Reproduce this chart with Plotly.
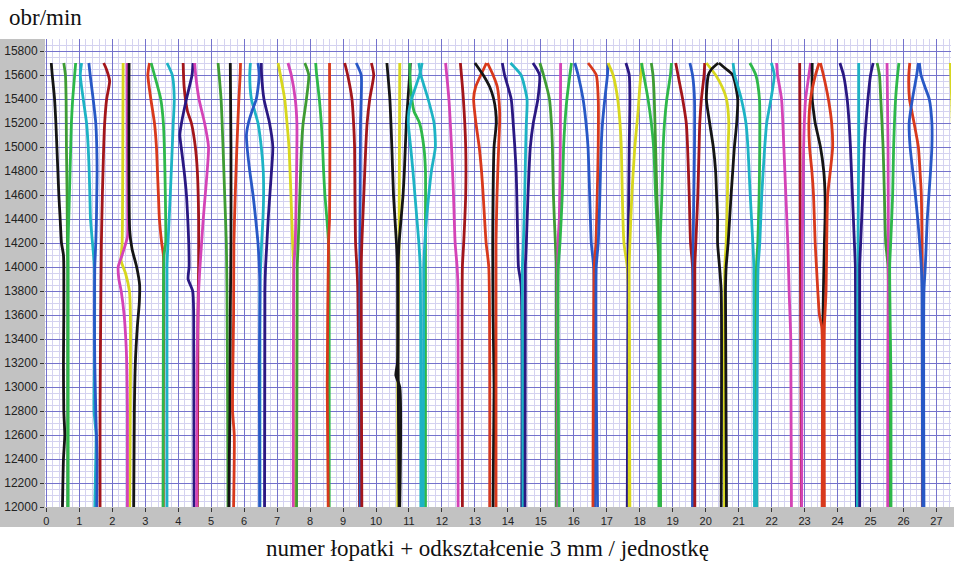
import plotly.graph_objects as go

# Rotational speed range (rpm) and blade axis range
RPM_MIN, RPM_MAX = 12000, 15900
X_MIN, X_MAX = -0.04, 27.44

COLORS = {
    "black": "#151515",
    "green": "#2eb84a",
    "dkgreen": "#3f9c34",
    "red": "#d8391c",
    "maroon": "#a3161b",
    "cyan": "#1db3c4",
    "blue": "#2858c6",
    "navy": "#2a1882",
    "magenta": "#d443b6",
    "yellow": "#d7d71f",
}

# Each curve: colour key and {rpm: blade position + deflection}
blades_00_04 = [
    ("black", {15700: 0.15, 15600: 0.18, 15400: 0.25, 15200: 0.29, 15000: 0.32, 14800: 0.35, 14600: 0.38,
               14400: 0.42, 14200: 0.46, 14100: 0.52, 14000: 0.53, 13600: 0.53, 13200: 0.52, 12800: 0.53,
               12600: 0.56, 12400: 0.52, 12000: 0.49}),
    ("dkgreen", {15700: 0.53, 15600: 0.58, 15400: 0.60, 15000: 0.61, 14600: 0.63, 14200: 0.64, 14000: 0.65, 12000: 0.65}),
    ("green", {15700: 0.89, 15600: 0.86, 15400: 0.80, 15200: 0.76, 15000: 0.74, 14800: 0.72, 14600: 0.70,
               14400: 0.68, 14200: 0.66, 14000: 0.66, 12000: 0.66}),
    ("cyan", {15700: 1.07, 15600: 1.03, 15400: 1.12, 15200: 1.22, 15000: 1.27, 14800: 1.30, 14600: 1.32,
              14400: 1.34, 14200: 1.40, 14000: 1.46, 13200: 1.46, 12800: 1.45, 12600: 1.51, 12400: 1.50, 12000: 1.47}),
    ("blue", {15700: 1.29, 15600: 1.33, 15400: 1.42, 15200: 1.50, 15000: 1.53, 14800: 1.54, 14600: 1.53,
              14400: 1.52, 14200: 1.50, 14000: 1.47, 13600: 1.46, 13200: 1.47, 12800: 1.50, 12400: 1.54, 12000: 1.53}),
    ("maroon", {15700: 1.74, 15650: 1.82, 15550: 1.92, 15400: 1.83, 15200: 1.77, 15000: 1.74, 14600: 1.70,
                14200: 1.67, 13600: 1.65, 12800: 1.63, 12000: 1.63}),
    ("yellow", {15700: 2.33, 15000: 2.32, 14400: 2.31, 14200: 2.30, 14050: 2.27, 13950: 2.40, 13800: 2.52,
                13600: 2.55, 12000: 2.53}),
    ("magenta", {15700: 2.45, 14400: 2.47, 14250: 2.46, 14100: 2.30, 14000: 2.18, 13900: 2.20, 13800: 2.27,
                 13600: 2.36, 13400: 2.41, 13200: 2.44, 12800: 2.46, 12000: 2.46}),
    ("black", {15700: 2.51, 14300: 2.53, 14150: 2.60, 14000: 2.74, 13850: 2.83, 13700: 2.82, 13500: 2.76,
               13200: 2.70, 12800: 2.67, 12000: 2.65}),
    ("red", {15700: 3.13, 15600: 3.08, 15400: 3.17, 15200: 3.28, 15000: 3.34, 14800: 3.37, 14600: 3.40,
             14400: 3.43, 14200: 3.50, 14100: 3.55, 13600: 3.56, 12800: 3.55, 12000: 3.55}),
    ("green", {15700: 3.18, 15600: 3.28, 15400: 3.47, 15200: 3.55, 15000: 3.58, 14600: 3.61, 14200: 3.62,
               14100: 3.57, 13600: 3.55, 12000: 3.54}),
    ("cyan", {15700: 3.66, 15600: 3.82, 15400: 3.88, 15200: 3.85, 15000: 3.82, 14600: 3.76, 14200: 3.69,
              14000: 3.66, 12000: 3.66}),
    ("maroon", {15700: 4.15, 15500: 4.18, 15300: 4.28, 15200: 4.40, 15000: 4.52, 14800: 4.58, 14400: 4.62,
                14000: 4.62, 13600: 4.60, 12000: 4.58}),
    ("navy", {15700: 4.45, 15600: 4.42, 15400: 4.25, 15200: 4.10, 15100: 4.05, 15000: 4.09, 14800: 4.18,
              14600: 4.25, 14400: 4.29, 14200: 4.32, 14000: 4.33, 13900: 4.30, 13800: 4.44, 13600: 4.47, 12000: 4.48}),
    ("magenta", {15700: 4.50, 15600: 4.53, 15400: 4.63, 15200: 4.80, 15000: 4.92, 14800: 4.88, 14600: 4.82,
                 14400: 4.76, 14200: 4.71, 14000: 4.66, 13800: 4.62, 13200: 4.57, 12000: 4.56}),
]

blades_05_09 = [
    ("dkgreen", {15700: 5.21, 15400: 5.30, 15000: 5.36, 14600: 5.41, 14200: 5.46, 13800: 5.48, 12800: 5.50, 12000: 5.51}),
    ("black", {15700: 5.58, 15000: 5.60, 14200: 5.60, 13600: 5.58, 12800: 5.57, 12400: 5.55, 12000: 5.54}),
    ("red", {15700: 5.89, 15600: 5.88, 15400: 5.84, 15000: 5.78, 14600: 5.73, 14200: 5.69, 13600: 5.68,
             12800: 5.65, 12600: 5.70, 12000: 5.68}),
    ("cyan", {15700: 6.19, 15600: 6.17, 15400: 6.22, 15300: 6.32, 15200: 6.42, 15000: 6.52, 14800: 6.58,
              14600: 6.59, 14400: 6.57, 14200: 6.53, 14000: 6.50, 13800: 6.48, 12000: 6.48}),
    ("blue", {15700: 6.42, 15600: 6.46, 15400: 6.37, 15300: 6.24, 15200: 6.13, 15100: 6.07, 15000: 6.09,
              14800: 6.17, 14600: 6.27, 14400: 6.35, 14200: 6.42, 14000: 6.46, 13800: 6.48, 13200: 6.46,
              12400: 6.47, 12000: 6.47}),
    ("navy", {15700: 6.52, 15600: 6.53, 15400: 6.60, 15200: 6.77, 15000: 6.87, 14800: 6.83, 14600: 6.78,
              14400: 6.73, 14200: 6.69, 14000: 6.65, 13800: 6.63, 12000: 6.62}),
    ("yellow", {15700: 7.03, 15600: 7.10, 15400: 7.23, 15200: 7.30, 15000: 7.36, 14600: 7.42, 14200: 7.47,
                14000: 7.50, 12800: 7.51, 12000: 7.53}),
    ("magenta", {15700: 7.33, 15600: 7.43, 15400: 7.55, 15200: 7.60, 15000: 7.60, 14600: 7.58, 14200: 7.55,
                 14000: 7.51, 12000: 7.49}),
    ("dkgreen", {15700: 7.84, 15600: 7.96, 15400: 7.89, 15200: 7.79, 15000: 7.74, 14600: 7.69, 14200: 7.64,
                 14000: 7.61, 12000: 7.59}),
    ("green", {15700: 8.17, 15600: 8.20, 15400: 8.28, 15200: 8.34, 15000: 8.38, 14800: 8.41, 14600: 8.45,
               14400: 8.51, 14200: 8.56, 14000: 8.58, 12000: 8.58}),
    ("red", {15700: 8.59, 15000: 8.60, 14400: 8.59, 14200: 8.56, 13000: 8.52, 12000: 8.55}),
    ("maroon", {15700: 9.05, 15600: 9.14, 15400: 9.27, 15200: 9.32, 15000: 9.35, 14600: 9.36, 14200: 9.38,
                14000: 9.42, 13800: 9.45, 12800: 9.49, 12000: 9.50}),
]

blades_10_13 = [
    ("blue", {15700: 9.40, 15600: 9.55, 15400: 9.55, 15200: 9.53, 14600: 9.52, 14200: 9.51, 12000: 9.52}),
    ("maroon", {15700: 9.86, 15600: 9.93, 15400: 9.81, 15200: 9.73, 15000: 9.69, 14600: 9.63, 14200: 9.57,
                14000: 9.55, 12800: 9.56, 12000: 9.57}),
    ("yellow", {15700: 10.72, 14200: 10.70, 13200: 10.66, 12000: 10.66}),
    ("black", {15700: 10.33, 15400: 10.42, 15000: 10.48, 14600: 10.53, 14200: 10.62, 14000: 10.65,
               13200: 10.65, 13100: 10.60, 13000: 10.72, 12000: 10.72}),
    ("black", {15700: 11.04, 15600: 11.02, 15400: 10.97, 15200: 10.92, 14800: 10.86, 14600: 10.82,
               14400: 10.76, 14200: 10.70, 14000: 10.67, 13200: 10.67, 12000: 10.70}),
    ("green", {15700: 11.02, 15500: 11.05, 15300: 11.15, 15200: 11.32, 15000: 11.45, 14800: 11.50,
               14400: 11.50, 12000: 11.50}),
    ("cyan", {15700: 11.30, 15600: 11.36, 15400: 11.58, 15200: 11.76, 15000: 11.80, 14800: 11.68,
              14600: 11.60, 14400: 11.53, 14200: 11.48, 14000: 11.45, 12000: 11.43}),
    ("cyan", {15700: 11.40, 15600: 11.32, 15400: 11.08, 15300: 11.00, 15200: 10.98, 15000: 11.05,
              14800: 11.12, 14600: 11.18, 14400: 11.24, 14200: 11.30, 14000: 11.34, 12000: 11.36}),
    ("magenta", {15700: 12.11, 15400: 12.21, 15000: 12.29, 14600: 12.35, 14200: 12.40, 14000: 12.46,
                 13800: 12.49, 12000: 12.49}),
    ("maroon", {15700: 12.56, 15400: 12.65, 15000: 12.72, 14600: 12.72, 14200: 12.66, 14000: 12.62, 12000: 12.62}),
    ("red", {15700: 13.35, 15600: 13.18, 15500: 13.02, 15400: 12.96, 15200: 13.03, 15000: 13.13,
             14800: 13.20, 14600: 13.25, 14200: 13.34, 14000: 13.42, 12000: 13.45}),
    ("black", {15700: 13.00, 15600: 13.25, 15500: 13.45, 15400: 13.57, 15300: 13.63, 15200: 13.65,
               15000: 13.58, 14600: 13.55, 14200: 13.54, 13600: 13.55, 13000: 13.58, 12000: 13.55}),
    ("red", {15700: 13.38, 15600: 13.55, 15500: 13.68, 15300: 13.75, 15200: 13.75, 15000: 13.72,
             14600: 13.67, 14200: 13.64, 12000: 13.64}),
]

blades_14_17 = [
    ("navy", {15700: 13.83, 15600: 13.90, 15400: 14.10, 15200: 14.16, 15000: 14.21, 14800: 14.25,
              14600: 14.27, 14200: 14.30, 14000: 14.32, 13850: 14.40, 12000: 14.42}),
    ("cyan", {15700: 14.08, 15650: 14.25, 15600: 14.40, 15400: 14.58, 15200: 14.56, 15000: 14.54,
              14600: 14.51, 14200: 14.47, 14000: 14.44, 12000: 14.46}),
    ("navy", {15700: 14.76, 15600: 14.96, 15400: 14.91, 15200: 14.77, 15000: 14.68, 14600: 14.61,
              14200: 14.56, 14000: 14.53, 12000: 14.52}),
    ("dkgreen", {15700: 14.97, 15600: 15.08, 15400: 15.26, 15200: 15.32, 15000: 15.35, 14600: 15.38,
                 14200: 15.44, 14000: 15.47, 12000: 15.47}),
    ("magenta", {15700: 15.60, 15000: 15.59, 14400: 15.56, 14200: 15.52, 12000: 15.52}),
    ("green", {15700: 15.93, 15600: 15.88, 15400: 15.79, 15200: 15.73, 15000: 15.69, 14600: 15.65,
               14200: 15.58, 14000: 15.53, 12000: 15.55}),
    ("blue", {15700: 16.03, 15600: 16.13, 15400: 16.28, 15200: 16.37, 15000: 16.43, 14600: 16.48,
              14200: 16.53, 14000: 16.60, 12000: 16.63}),
    ("red", {15700: 16.43, 15600: 16.68, 15400: 16.74, 15000: 16.74, 14600: 16.71, 14200: 16.67,
             14000: 16.62, 12000: 16.58}),
    ("blue", {15700: 17.04, 15600: 17.02, 15400: 16.94, 15200: 16.87, 15000: 16.83, 14600: 16.79,
              14200: 16.74, 14000: 16.68, 13000: 16.68, 12000: 16.72}),
    ("yellow", {15700: 17.04, 15600: 17.19, 15400: 17.33, 15200: 17.40, 15000: 17.44, 14600: 17.47,
                14200: 17.52, 14000: 17.62, 13500: 17.68, 12000: 17.70}),
    ("navy", {15700: 17.58, 15600: 17.68, 15400: 17.70, 15000: 17.68, 14200: 17.65, 12000: 17.62}),
]

blades_18_22 = [
    ("yellow", {15700: 18.07, 15500: 18.00, 15300: 17.95, 15000: 17.85, 14600: 17.76, 14200: 17.70,
                14000: 17.68, 12000: 17.68}),
    ("green", {15700: 18.05, 15600: 18.12, 15400: 18.25, 15200: 18.35, 15000: 18.42, 14600: 18.48,
               14200: 18.55, 14000: 18.58, 12000: 18.58}),
    ("dkgreen", {15700: 18.35, 15600: 18.40, 15400: 18.44, 15000: 18.48, 14600: 18.52, 14200: 18.57, 12000: 18.63}),
    ("green", {15700: 18.96, 15600: 18.93, 15400: 18.82, 15200: 18.75, 15000: 18.71, 14600: 18.67,
               14200: 18.62, 12000: 18.62}),
    ("maroon", {15700: 19.09, 15600: 19.16, 15400: 19.30, 15200: 19.41, 15000: 19.45, 14600: 19.50,
                14200: 19.54, 14000: 19.60, 12000: 19.61}),
    ("blue", {15700: 19.52, 15600: 19.60, 15400: 19.66, 15000: 19.66, 14600: 19.64, 14200: 19.62, 12000: 19.60}),
    ("maroon", {15700: 19.97, 15600: 19.95, 15400: 19.87, 15200: 19.82, 15000: 19.80, 14600: 19.76,
                14200: 19.70, 14000: 19.67, 12000: 19.67}),
    ("yellow", {15700: 20.02, 15600: 20.30, 15500: 20.50, 15400: 20.63, 15200: 20.70, 15000: 20.68,
                14600: 20.66, 14200: 20.62, 14000: 20.58, 12000: 20.57}),
    ("black", {15700: 20.38, 15650: 20.18, 15600: 20.08, 15400: 20.02, 15200: 20.12, 15000: 20.23,
               14800: 20.30, 14600: 20.33, 14400: 20.36, 14200: 20.36, 14000: 20.42, 13800: 20.47, 12000: 20.47}),
    ("black", {15700: 20.40, 15650: 20.62, 15600: 20.82, 15400: 20.97, 15200: 20.94, 15000: 20.87,
               14800: 20.82, 14600: 20.77, 14200: 20.68, 14000: 20.62, 13800: 20.60, 12000: 20.63}),
    ("cyan", {15700: 20.83, 15600: 20.88, 15400: 21.08, 15200: 21.22, 15000: 21.28, 14600: 21.35,
              14200: 21.43, 14000: 21.46, 12000: 21.48}),
    ("green", {15700: 21.34, 15600: 21.52, 15400: 21.63, 15000: 21.64, 14600: 21.62, 14200: 21.58,
               14000: 21.54, 12000: 21.55}),
    ("cyan", {15700: 21.99, 15600: 22.08, 15400: 21.98, 15200: 21.85, 15000: 21.79, 14600: 21.70,
              14200: 21.64, 14000: 21.59, 12000: 21.54}),
    ("magenta", {15700: 22.15, 15600: 22.18, 15400: 22.30, 15000: 22.37, 14600: 22.43, 14200: 22.49,
                 13800: 22.53, 13400: 22.58, 12000: 22.60}),
]

blades_23_27 = [
    ("maroon", {15700: 22.85, 15000: 22.86, 14200: 22.87, 13000: 22.89, 12000: 22.90}),
    ("magenta", {15700: 23.18, 15600: 23.13, 15400: 23.03, 15200: 22.99, 15000: 22.97, 14600: 22.95,
                 14200: 22.93, 12000: 22.91}),
    ("black", {15700: 23.23, 15400: 23.23, 15300: 23.27, 15200: 23.32, 15000: 23.48, 14800: 23.58,
               14600: 23.62, 14400: 23.62, 14200: 23.60, 13800: 23.57, 13400: 23.55, 12000: 23.55}),
    ("red", {15700: 23.44, 15600: 23.33, 15400: 23.18, 15200: 23.13, 15000: 23.15, 14800: 23.22,
             14600: 23.27, 14200: 23.32, 14000: 23.36, 13800: 23.40, 13600: 23.45, 13500: 23.52, 12000: 23.53}),
    ("red", {15700: 23.48, 15600: 23.57, 15400: 23.72, 15200: 23.82, 15000: 23.85, 14800: 23.78,
             14600: 23.70, 14200: 23.67, 13800: 23.65, 13500: 23.60, 12000: 23.60}),
    ("navy", {15700: 24.07, 15600: 24.18, 15400: 24.29, 15200: 24.35, 15000: 24.39, 14600: 24.45,
              14200: 24.51, 14000: 24.54, 13000: 24.55, 12000: 24.57}),
    ("cyan", {15700: 24.64, 15000: 24.64, 14200: 24.62, 13000: 24.60, 12000: 24.60}),
    ("navy", {15700: 25.08, 15600: 25.00, 15400: 24.92, 15200: 24.86, 15000: 24.81, 14600: 24.76,
              14200: 24.70, 14000: 24.67, 12000: 24.67}),
    ("dkgreen", {15700: 25.20, 15600: 25.27, 15400: 25.31, 15000: 25.38, 14600: 25.42, 14200: 25.46,
                 14000: 25.53, 12000: 25.55}),
    ("magenta", {15700: 25.50, 15000: 25.53, 14200: 25.54, 13000: 25.52, 12000: 25.52}),
    ("green", {15700: 25.86, 15600: 25.82, 15400: 25.76, 15000: 25.70, 14600: 25.67, 14200: 25.61,
               14000: 25.58, 13000: 25.62, 12000: 25.62}),
    ("red", {15700: 26.19, 15600: 26.16, 15400: 26.18, 15300: 26.25, 15200: 26.32, 15000: 26.45,
             14800: 26.50, 14600: 26.54, 14200: 26.56, 13800: 26.57, 12000: 26.57}),
    ("blue", {15700: 26.45, 15600: 26.40, 15400: 26.27, 15200: 26.17, 15000: 26.20, 14800: 26.28,
              14600: 26.36, 14400: 26.43, 14200: 26.49, 14000: 26.54, 13800: 26.56, 12000: 26.58}),
    ("blue", {15700: 26.48, 15600: 26.53, 15500: 26.65, 15400: 26.78, 15200: 26.86, 15000: 26.86,
              14800: 26.82, 14600: 26.77, 14400: 26.72, 14200: 26.69, 14000: 26.66, 13800: 26.62, 12000: 26.62}),
    ("yellow", {15700: 27.42, 15400: 27.46, 15000: 27.50, 14600: 27.54, 14200: 27.58, 12000: 27.60}),
]

x_ticks = list(range(0, 28))
y_ticks = list(range(12000, 15801, 200))

X_TITLE = "numer łopatki + odkształcenie 3 mm / jednostkę"
Y_TITLE = "obr/min"

fig = go.Figure()
for group in (blades_00_04, blades_05_09, blades_10_13, blades_14_17, blades_18_22, blades_23_27):
    for color_key, curve in group:
        rpm = sorted(curve.keys(), reverse=True)
        fig.add_trace(go.Scatter(
            x=[curve[r] for r in rpm], y=rpm, mode="lines",
            line=dict(color=COLORS[color_key], width=2.8, shape="spline", smoothing=0.6),
            hoverinfo="skip", showlegend=False,
        ))

W, H = 954, 562
ML, MR, MT, MB = 45, 3, 39, 55
pw, ph = W - ML - MR, H - MT - MB
GRAY = "#c2c2c2"
SERIF = "Liberation Serif, Times New Roman, serif"

fig.update_layout(
    width=W, height=H,
    margin=dict(l=ML, r=MR, t=MT, b=MB),
    paper_bgcolor="white", plot_bgcolor="white",
    showlegend=False,
    font=dict(family="Arial, Liberation Sans, sans-serif", color="#1a1a1a"),
    shapes=[
        dict(type="rect", xref="paper", yref="paper", x0=-ML / pw, x1=0, y0=-20 / ph, y1=1,
             fillcolor=GRAY, line=dict(width=0), layer="below"),
        dict(type="rect", xref="paper", yref="paper", x0=-ML / pw, x1=1 + MR / pw, y0=-20 / ph, y1=0,
             fillcolor=GRAY, line=dict(width=0), layer="below"),
    ],
    annotations=[
        dict(text=Y_TITLE, xref="paper", yref="paper", x=-38 / pw, y=1 + 21 / ph,
             xanchor="left", yanchor="middle", showarrow=False,
             font=dict(family=SERIF, size=23, color="#111")),
        dict(text=X_TITLE, xref="paper", yref="paper", x=(487 - ML) / pw, y=-41 / ph,
             xanchor="center", yanchor="middle", showarrow=False,
             font=dict(family=SERIF, size=23, color="#111")),
    ],
)

fig.update_xaxes(
    range=[X_MIN, X_MAX], tickmode="array", tickvals=x_ticks, ticktext=[str(t) for t in x_ticks],
    ticks="outside", ticklen=4, tickcolor="#333", tickfont=dict(size=11, color="#222"),
    showgrid=True, gridcolor="#7472cc", gridwidth=1, zeroline=False, showline=False,
    minor=dict(dtick=0.2, tick0=0, showgrid=True, gridcolor="#d4d2f0", gridwidth=1),
)
fig.update_yaxes(
    range=[RPM_MIN, RPM_MAX], tickmode="array", tickvals=y_ticks, ticktext=[str(t) for t in y_ticks],
    ticks="outside", ticklen=4, tickcolor="#333", tickfont=dict(size=12, color="#222"),
    showgrid=True, gridcolor="#7472cc", gridwidth=1, zeroline=False, showline=False,
    minor=dict(dtick=50, tick0=12000, showgrid=True, gridcolor="#d4d2f0", gridwidth=1),
)

fig.write_html("out.html")
